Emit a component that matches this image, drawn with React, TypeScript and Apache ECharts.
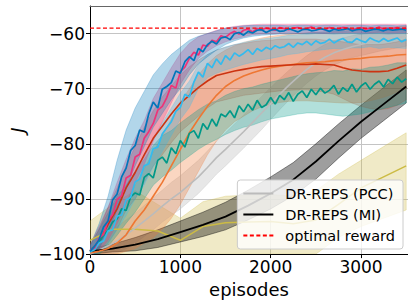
import React, { useEffect, useRef } from 'react';
import * as echarts from 'echarts';

const FONT = 'DejaVu Sans';

// episode grids
const EP50 = [0, 50, 100, 150, 200, 250, 300, 350, 400, 450, 500, 550, 600, 650, 700, 750, 800, 850, 900, 950, 1000, 1050, 1100, 1150, 1200, 1250, 1300, 1350, 1400, 1450, 1500, 1550, 1600, 1650, 1700, 1750, 1800, 1850, 1900, 1950, 2000, 2050, 2100, 2150, 2200, 2250, 2300, 2350, 2400, 2450, 2500, 2550, 2600, 2650, 2700, 2750, 2800, 2850, 2900, 2950, 3000, 3050, 3100, 3150, 3200, 3250, 3300, 3350, 3400, 3450, 3500];
const EP100 = [0, 100, 200, 300, 400, 500, 600, 700, 800, 900, 1000, 1100, 1200, 1300, 1400, 1500, 1600, 1700, 1800, 1900, 2000, 2100, 2200, 2300, 2400, 2500, 2600, 2700, 2800, 2900, 3000, 3100, 3200, 3300, 3400, 3500];
const EP250 = [0, 250, 500, 750, 1000, 1250, 1500, 1750, 2000, 2250, 2500, 2750, 3000, 3250, 3500];

const X_TICKS = [0, 1000, 2000, 3000];
const Y_TICKS = [-100, -90, -80, -70, -60];
const OPTIMAL = -59;

// noisy curves (every 50 episodes)
const BLUE = [
  -99.5, -98.6, -97.4, -95.1, -94.0, -90.2, -89.1, -86.0, -84.4, -81.2,
  -80.3, -77.5, -77.9, -74.6, -72.4, -73.5, -70.1, -69.6, -68.9, -66.8,
  -67.2, -65.1, -64.2, -64.9, -62.7, -63.3, -62.0, -61.4, -61.9, -60.8,
  -60.6, -61.1, -60.0, -59.8, -60.3, -59.6, -59.9, -59.4, -59.3, -59.8,
  -59.4, -59.2, -59.6, -59.5, -59.1, -59.4, -59.7, -59.3, -59.2, -59.5,
  -59.4, -59.1, -59.3, -59.6, -59.2, -59.4, -59.3, -59.1, -59.5, -59.3,
  -59.2, -59.6, -59.4, -59.2, -59.3, -59.5, -59.2, -59.4, -59.3, -59.2,
  -59.4];
const PINK = [
  -99.3, -98.9, -97.1, -96.4, -93.9, -92.8, -90.1, -89.4, -86.2, -85.7,
  -82.4, -81.9, -79.0, -77.8, -76.3, -73.9, -73.2, -71.6, -69.4, -69.9,
  -66.9, -66.1, -64.5, -63.4, -63.9, -62.1, -62.3, -61.2, -61.5, -60.4,
  -60.7, -60.0, -59.6, -60.1, -59.4, -59.2, -59.7, -59.1, -59.3, -59.0,
  -59.2, -59.4, -58.9, -59.1, -59.3, -59.0, -58.9, -59.2, -59.1, -58.8,
  -59.2, -59.0, -59.3, -58.9, -59.1, -59.2, -58.9, -59.0, -59.3, -59.1,
  -58.9, -59.2, -59.0, -59.1, -58.8, -59.2, -59.0, -59.1, -58.9, -59.2,
  -59.0];
const CYAN = [
  -99.6, -99.2, -98.0, -97.6, -95.8, -95.6, -93.1, -92.9, -90.2, -89.7,
  -86.9, -86.4, -84.0, -83.6, -80.9, -80.6, -78.2, -77.1, -76.0, -74.1,
  -73.4, -71.0, -71.5, -68.8, -67.0, -67.9, -65.4, -66.2, -64.6, -65.6,
  -64.0, -64.8, -63.5, -64.1, -63.6, -62.9, -63.8, -62.7, -63.2, -62.5,
  -62.9, -62.2, -62.6, -62.4, -61.8, -62.5, -61.7, -62.0, -61.4, -62.1,
  -61.3, -61.8, -61.6, -61.0, -61.7, -61.2, -60.9, -61.5, -61.6, -60.9,
  -61.3, -61.6, -60.8, -61.2, -61.5, -60.9, -61.4, -61.1, -60.8, -61.5,
  -61.1];
const TEAL = [
  -99.5, -99.1, -97.9, -96.6, -95.7, -94.2, -93.6, -91.8, -92.1, -89.6,
  -88.9, -89.3, -86.1, -85.4, -86.2, -83.0, -82.4, -83.5, -80.7, -81.8,
  -79.4, -80.6, -78.1, -77.6, -79.0, -76.3, -77.4, -75.5, -76.8, -74.6,
  -75.1, -74.0, -75.3, -73.1, -74.2, -72.8, -73.9, -72.1, -73.4, -72.9,
  -71.6, -72.8, -71.2, -72.0, -70.7, -72.3, -71.0, -70.4, -71.6, -70.1,
  -71.1, -69.9, -70.8, -70.3, -69.4, -71.0, -69.8, -70.5, -69.2, -70.6,
  -69.5, -68.9, -70.1, -69.2, -68.6, -69.7, -68.3, -69.1, -67.9, -68.8,
  -68.2];

// smoother curves (every 100 episodes)
const RED = [-99.5, -97.8, -94.6, -91.8, -88.0, -85.2, -82.0, -79.0, -76.8, -74.6, -72.6, -71.2, -69.8, -68.6, -67.6, -67.2, -66.8, -66.5, -66.2, -66.0, -65.9, -65.8, -65.7, -65.6, -65.6, -65.5, -65.6, -65.7, -66.2, -66.6, -66.8, -66.9, -66.9, -66.8, -66.3, -65.7];
const ORANGE = [-99.8, -99.5, -99, -98, -96.5, -94, -92, -89.5, -87, -84, -81, -78, -75.5, -73.2, -71.2, -69.6, -68.5, -67.7, -67.1, -66.6, -66.2, -65.9, -65.7, -65.5, -65.3, -65.2, -65.1, -64.9, -64.8, -64.6, -64.5, -64.3, -64.2, -64.1, -63.9, -63.8];
const PCC = [-100, -99.3, -98.5, -97.6, -96.5, -95.3, -94, -92.7, -91.3, -90, -88.8, -87.4, -86, -84.3, -82.5, -81, -79.4, -77.8, -76.1, -74.4, -72.7, -71, -69.4, -67.9, -66.5, -65.3, -64.3, -63.5, -62.9, -62.4, -62, -61.6, -61.3, -61, -60.7, -60.5];

// every 250 episodes
const MI = [-99.5, -99, -98.3, -97.3, -96, -94.7, -93.2, -91.2, -89, -86.5, -83.2, -79.5, -76, -72.8, -69.6];
const OLIVE = [-97.5, -95.5, -95.5, -95.8, -97.5, -95, -94.3, -94.2, -94.1, -94.5, -93.8, -91, -88, -86, -84];

// spread bands (every 100 episodes)
const BLUE_HI = [-98.5, -94.5, -89.5, -83, -77.5, -73.5, -70.5, -67.5, -65.5, -63.8, -62.5, -61.2, -60.5, -60, -59.5, -59, -58.8, -58.6, -58.5, -58.5, -58.5, -58.5, -58.6, -58.5, -58.5, -58.6, -58.5, -58.5, -58.6, -58.5, -58.5, -58.6, -58.5, -58.5, -58.6, -58.5];
const BLUE_LO = [-100, -99, -96, -92, -88, -84, -80.5, -77, -74.5, -72, -70, -67.5, -65.5, -64.2, -63, -62, -61.3, -60.8, -60.5, -60.3, -60.2, -60.1, -60.1, -60, -60.1, -60, -60, -60.1, -60, -60, -60.1, -60, -60, -60.1, -60, -60];
const PINK_HI = [-98.3, -95, -91.5, -87, -82.8, -79, -75.8, -71.8, -69, -66.2, -63.6, -61.8, -60.6, -60, -59.4, -59, -58.7, -58.5, -58.4, -58.3, -58.3, -58.3, -58.3, -58.3, -58.3, -58.3, -58.3, -58.3, -58.3, -58.3, -58.3, -58.3, -58.3, -58.3, -58.3, -58.3];
const PINK_LO = [-100, -99.5, -97.5, -94.5, -90.8, -87, -83.8, -79.5, -76, -72.6, -69.2, -66.6, -64.5, -63.2, -62.2, -61.5, -61, -60.6, -60.2, -60.1, -60, -60, -59.9, -60, -59.9, -59.9, -60, -59.9, -59.9, -59.8, -59.9, -59.9, -59.8, -59.9, -59.9, -59.8];
const CYAN_HI = [-98.5, -96.4, -93.8, -90.8, -88, -84.8, -82, -79, -76.2, -73.5, -70.8, -68.6, -65.6, -63.8, -63, -62.4, -62, -61.6, -61.3, -61, -60.8, -60.6, -60.3, -60.2, -59.9, -59.8, -59.7, -59.5, -59.6, -59.4, -59.5, -59.3, -59.6, -59.4, -59.5, -59.6];
const CYAN_LO = [-100, -99.8, -98.2, -95.6, -93, -90, -87.4, -84.2, -81.4, -78.5, -75.6, -73.4, -70, -68, -67.2, -66.6, -66.1, -65.6, -65.2, -64.8, -64.5, -64.2, -63.8, -63.6, -63.3, -63.1, -62.9, -62.7, -62.8, -62.6, -62.6, -62.4, -62.7, -62.5, -62.6, -62.7];
const TEAL_HI = [-98.5, -95.5, -92.5, -89.5, -87.5, -85, -82.8, -80.3, -78.5, -77.6, -76.2, -75, -73.8, -72.8, -72.2, -71.2, -70.5, -70, -69.7, -69.2, -68.8, -68.4, -68, -67.6, -67.3, -67.1, -67, -66.7, -66.8, -66.4, -66.5, -66.1, -66, -65.7, -65.3, -65.3];
const TEAL_LO = [-100, -100, -98.6, -96.6, -94.4, -92.4, -90, -87.5, -86, -84.8, -83.4, -82.2, -81, -80, -79.2, -78.3, -77.6, -77, -76.6, -76, -75.5, -75.2, -74.9, -74.6, -74.4, -74.4, -74.6, -74.8, -75, -74.8, -74.6, -74.2, -73.8, -73.4, -73, -72.6];
const RED_HI = [-98.5, -95.5, -91.5, -88, -84, -80.5, -77, -74, -71.5, -69.5, -67.5, -66, -64.8, -63.8, -63, -62.5, -62, -61.8, -61.5, -61.3, -61.2, -61, -61, -61, -61, -61, -61.2, -61.3, -61.5, -61.8, -62, -62, -62, -61.8, -61.5, -61];
const RED_LO = [-100, -99.8, -98, -95.5, -92, -90, -87, -84, -82, -79.8, -77.8, -76.4, -75, -73.5, -72.4, -72, -71.6, -71.2, -71, -70.8, -70.6, -70.4, -70.3, -70.2, -70.2, -70.4, -70.6, -71, -71.8, -72.6, -73.2, -73.6, -73.8, -73.6, -73, -72];
const ORANGE_HI = [-99, -98, -95.5, -93, -90.5, -87.5, -84.5, -81.5, -78.5, -75.5, -72.5, -70, -67.5, -65.5, -64, -63, -62.2, -61.6, -61.2, -60.8, -60.5, -60.3, -60.1, -60, -59.9, -59.8, -59.7, -59.6, -59.5, -59.4, -59.3, -59.2, -59.1, -59, -58.8, -58.6];
const ORANGE_LO = [-100, -100, -100, -100, -99.5, -99, -98, -97, -95.5, -93.5, -91, -88, -85, -82, -79.5, -77.5, -76, -75, -74, -73.3, -72.8, -72.5, -72.3, -72.2, -72.2, -72.3, -72.4, -72.5, -72.6, -72.6, -72.5, -72.2, -71.8, -71.3, -70.6, -70];
const PCC_HI = [-99, -97.5, -96.2, -95, -93.8, -92.6, -91.2, -89.8, -88.4, -87, -85.8, -84.4, -83, -81.3, -79.5, -78, -76.4, -74.8, -73.1, -71.4, -69.8, -68.2, -66.7, -65.3, -64, -62.9, -62, -61.3, -60.8, -60.4, -60.1, -59.8, -59.6, -59.4, -59.2, -59];
const PCC_LO = [-100, -100, -100, -99.8, -99, -98, -96.8, -95.6, -94.2, -93, -91.8, -90.4, -89, -87.3, -85.5, -84, -82.4, -80.8, -79.1, -77.4, -75.6, -73.8, -72.1, -70.5, -69, -67.7, -66.6, -65.7, -65, -64.4, -64, -63.6, -63.2, -62.9, -62.6, -62.3];
// spread bands (every 250 episodes)
const MI_HI = [-99, -98.2, -97, -95.6, -94, -92.4, -90.6, -88.4, -86, -83.4, -80, -76.4, -73, -69.8, -66.6];
const MI_LO = [-100, -99.6, -99.4, -98.8, -97.8, -96.8, -95.6, -93.8, -91.8, -89.4, -86.4, -82.6, -79, -75.8, -72.6];
const OLIVE_HI = [-94, -91, -88.5, -91, -93.5, -90.5, -89.5, -89.3, -89.2, -89.5, -88.5, -85.5, -83, -80.5, -78];
const OLIVE_LO = [-100, -100, -100, -100, -100, -100, -100, -100, -100, -100, -100, -97, -95, -93.5, -92];

const pairs = (xs: number[], ys: number[]) => xs.map((x, i) => [x, ys[i]]);

function band(name: string, xs: number[], lo: number[], hi: number[], fill: string, stroke: string) {
  return {
    type: 'custom',
    name,
    silent: true,
    clip: true,
    data: [[xs[0], lo[0]]],
    encode: { x: 0, y: 1 },
    renderItem: (_params: any, api: any) => {
      const top = xs.map((x, i) => api.coord([x, hi[i]]));
      const bot = xs.map((x, i) => api.coord([x, lo[i]])).reverse();
      return {
        type: 'polygon',
        shape: { points: top.concat(bot) },
        style: { fill, stroke, lineWidth: 0.8 },
      };
    },
  };
}

function line(name: string, xs: number[], ys: number[], color: string, width: number, extra: any = {}) {
  return {
    type: 'line',
    name,
    data: pairs(xs, ys),
    symbol: 'none',
    showSymbol: false,
    lineStyle: { color, width, ...extra },
    itemStyle: { color },
    z: 3,
  };
}

const fmt = (v: number) => (v < 0 ? '\u2212' + Math.abs(v) : String(v));

export default function App() {
  const ref = useRef<HTMLDivElement>(null);
  useEffect(() => {
    const chart = echarts.init(ref.current!, null, { renderer: 'svg' });
    chart.setOption({
      animation: false,
      backgroundColor: '#ffffff',
      grid: { left: 86, right: -2, top: 6, bottom: 47 },
      xAxis: [
        {
          type: 'value',
          min: 0,
          max: 3520,
          interval: 1000,
          name: 'episodes',
          nameLocation: 'middle',
          nameGap: 24,
          nameTextStyle: { fontFamily: FONT, fontSize: 18, color: '#000' },
          axisLine: { show: true, onZero: false, lineStyle: { color: '#000', width: 1 } },
          axisTick: { show: true, length: 4, lineStyle: { color: '#000' } },
          axisLabel: {
            fontFamily: FONT, fontSize: 17, color: '#000', margin: 4,
            showMaxLabel: false,
            formatter: (v: number) => (X_TICKS.includes(v) ? fmt(v) : ''),
          },
          splitLine: { show: true, lineStyle: { color: '#c4c4c4', width: 1 } },
        },
        {
          type: 'value',
          position: 'top',
          min: 0,
          max: 3520,
          axisLine: { show: true, lineStyle: { color: '#666', width: 1.2 } },
          axisTick: { show: false },
          axisLabel: { show: false },
          splitLine: { show: false },
        },
      ],
      yAxis: {
        type: 'value',
        min: -100,
        max: -55,
        interval: 10,
        name: 'J',
        nameLocation: 'middle',
        nameGap: 64,
        nameRotate: 90,
        nameTextStyle: { fontFamily: FONT, fontSize: 18, fontStyle: 'italic', color: '#000' },
        axisLine: { show: true, onZero: false, lineStyle: { color: '#000', width: 1 } },
        axisTick: { show: true, length: 4, lineStyle: { color: '#000' } },
        axisLabel: {
          fontFamily: FONT, fontSize: 17, color: '#000', margin: 5,
          showMaxLabel: false,
          formatter: (v: number) => (Y_TICKS.includes(v) ? fmt(v) : ''),
        },
        splitLine: { show: true, lineStyle: { color: '#c4c4c4', width: 1 } },
      },
      legend: {
        data: ['DR-REPS (PCC)', 'DR-REPS (MI)', 'optimal reward'],
        orient: 'vertical',
        right: 5,
        top: 180,
        itemWidth: 30,
        itemHeight: 12,
        itemGap: 6,
        padding: [6, 8, 6, 5],
        backgroundColor: 'rgba(255,255,255,0.8)',
        borderColor: '#cccccc',
        borderWidth: 1,
        borderRadius: 3,
        selectedMode: false,
        itemStyle: { opacity: 0 },
        textStyle: { fontFamily: FONT, fontSize: 14.5, color: '#000', padding: [0, 0, 0, 7] },
      },
      series: [
        band('olive band', EP250, OLIVE_LO, OLIVE_HI, 'rgba(204,187,68,0.3)', 'rgba(204,187,68,0.35)'),
        band('pcc band', EP100, PCC_LO, PCC_HI, 'rgba(187,187,187,0.35)', 'rgba(187,187,187,0.4)'),
        band('mi band', EP250, MI_LO, MI_HI, 'rgba(0,0,0,0.38)', 'rgba(0,0,0,0.5)'),
        band('orange band', EP100, ORANGE_LO, ORANGE_HI, 'rgba(238,119,51,0.3)', 'rgba(238,119,51,0.3)'),
        band('red band', EP100, RED_LO, RED_HI, 'rgba(204,51,17,0.22)', 'rgba(204,51,17,0.25)'),
        band('teal band', EP100, TEAL_LO, TEAL_HI, 'rgba(0,153,136,0.3)', 'rgba(0,153,136,0.3)'),
        band('cyan band', EP100, CYAN_LO, CYAN_HI, 'rgba(51,187,238,0.3)', 'rgba(51,187,238,0.3)'),
        band('pink band', EP100, PINK_LO, PINK_HI, 'rgba(238,51,119,0.3)', 'rgba(238,51,119,0.3)'),
        band('blue band', EP100, BLUE_LO, BLUE_HI, 'rgba(0,119,187,0.3)', 'rgba(0,119,187,0.3)'),
        line('olive', EP250, OLIVE, '#CCBB44', 1.5),
        line('DR-REPS (PCC)', EP100, PCC, '#BBBBBB', 1.6),
        line('DR-REPS (MI)', EP250, MI, '#000000', 1.8),
        line('orange', EP100, ORANGE, '#EE7733', 1.6),
        line('red', EP100, RED, '#CC3311', 1.6),
        line('teal', EP50, TEAL, '#009988', 1.7),
        line('cyan', EP50, CYAN, '#33BBEE', 1.7),
        line('pink', EP50, PINK, '#EE3377', 1.7),
        line('blue', EP50, BLUE, '#0077BB', 1.7),
        line('optimal reward', [0, 3500], [OPTIMAL, OPTIMAL], '#ff0000', 1.2, { type: [4, 2.5] }),
      ],
    });
    return () => chart.dispose();
  }, []);
  return (
    <div
      ref={ref}
      style={{ position: 'fixed', left: 0, top: 0, width: 408, height: 303, background: '#fff' }}
    />
  );
}
